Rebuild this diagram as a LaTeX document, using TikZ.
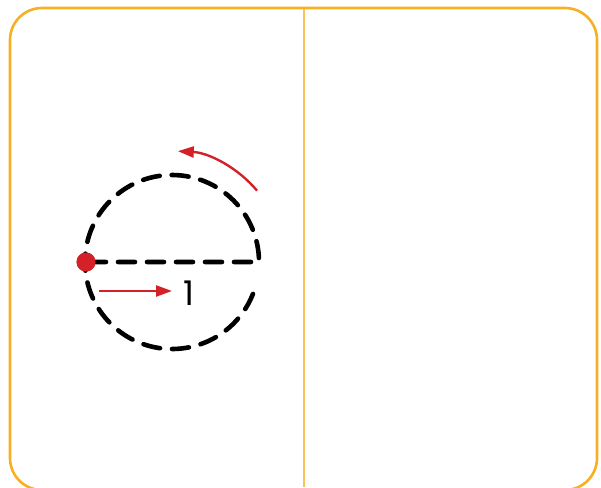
\documentclass[tikz,border=0pt]{standalone}
\usepackage{fontspec}
\newfontfamily\numfont{Poppins}
\usetikzlibrary{arrows.meta,calc}
\definecolor{frameor}{HTML}{F6B022}
\definecolor{lineor}{HTML}{F8C45A}
\definecolor{redc}{HTML}{D42128}
\tikzset{
  frame/.style={draw=frameor, line width=2.6pt, rounded corners=32pt},
  divider/.style={draw=lineor, line width=1.4pt},
  dashedpath/.style={draw=black, line width=4.6pt, line cap=round, dash pattern=on 17pt off 12pt},
  redarrow/.style={draw=redc, line width=2.4pt, -{Triangle[length=16pt,width=11pt]}},
  dotstyle/.style={circle, fill=redc, inner sep=0pt, minimum size=19pt},
  numlabel/.style={font=\numfont\fontsize{34}{36}\selectfont, inner sep=0pt}
}
\begin{document}
\begin{tikzpicture}[x=1pt,y=-1pt]
\useasboundingbox (0,0) rectangle (601,487);
\clip (0,0) rectangle (601,487);
\path[frame] (10,8) rectangle (597,490);
\coordinate (divtop) at (304,9);
\coordinate (divbot) at (304,487);
\path[divider] (divtop) -- (divbot);
\coordinate (c) at (172,262);
\coordinate (r) at (259,262);
\node[dotstyle] (dot) at (86,262) {};
\path[dashedpath, dash phase=-3pt] (dot.center) -- (r) arc[start angle=0, end angle=-340, radius=87];
\node[dotstyle] at (86,262) {};
\coordinate (a1) at (99,291);
\coordinate (a2) at (172,291);
\path[redarrow] (a1) -- (a2);
\node[numlabel] (one) at (189,293) {1};
\coordinate (cs) at ($(c)+(-40:111)$);
\path[redarrow] (cs) arc[start angle=-40, end angle=-87, radius=111];
\end{tikzpicture}
\end{document}
